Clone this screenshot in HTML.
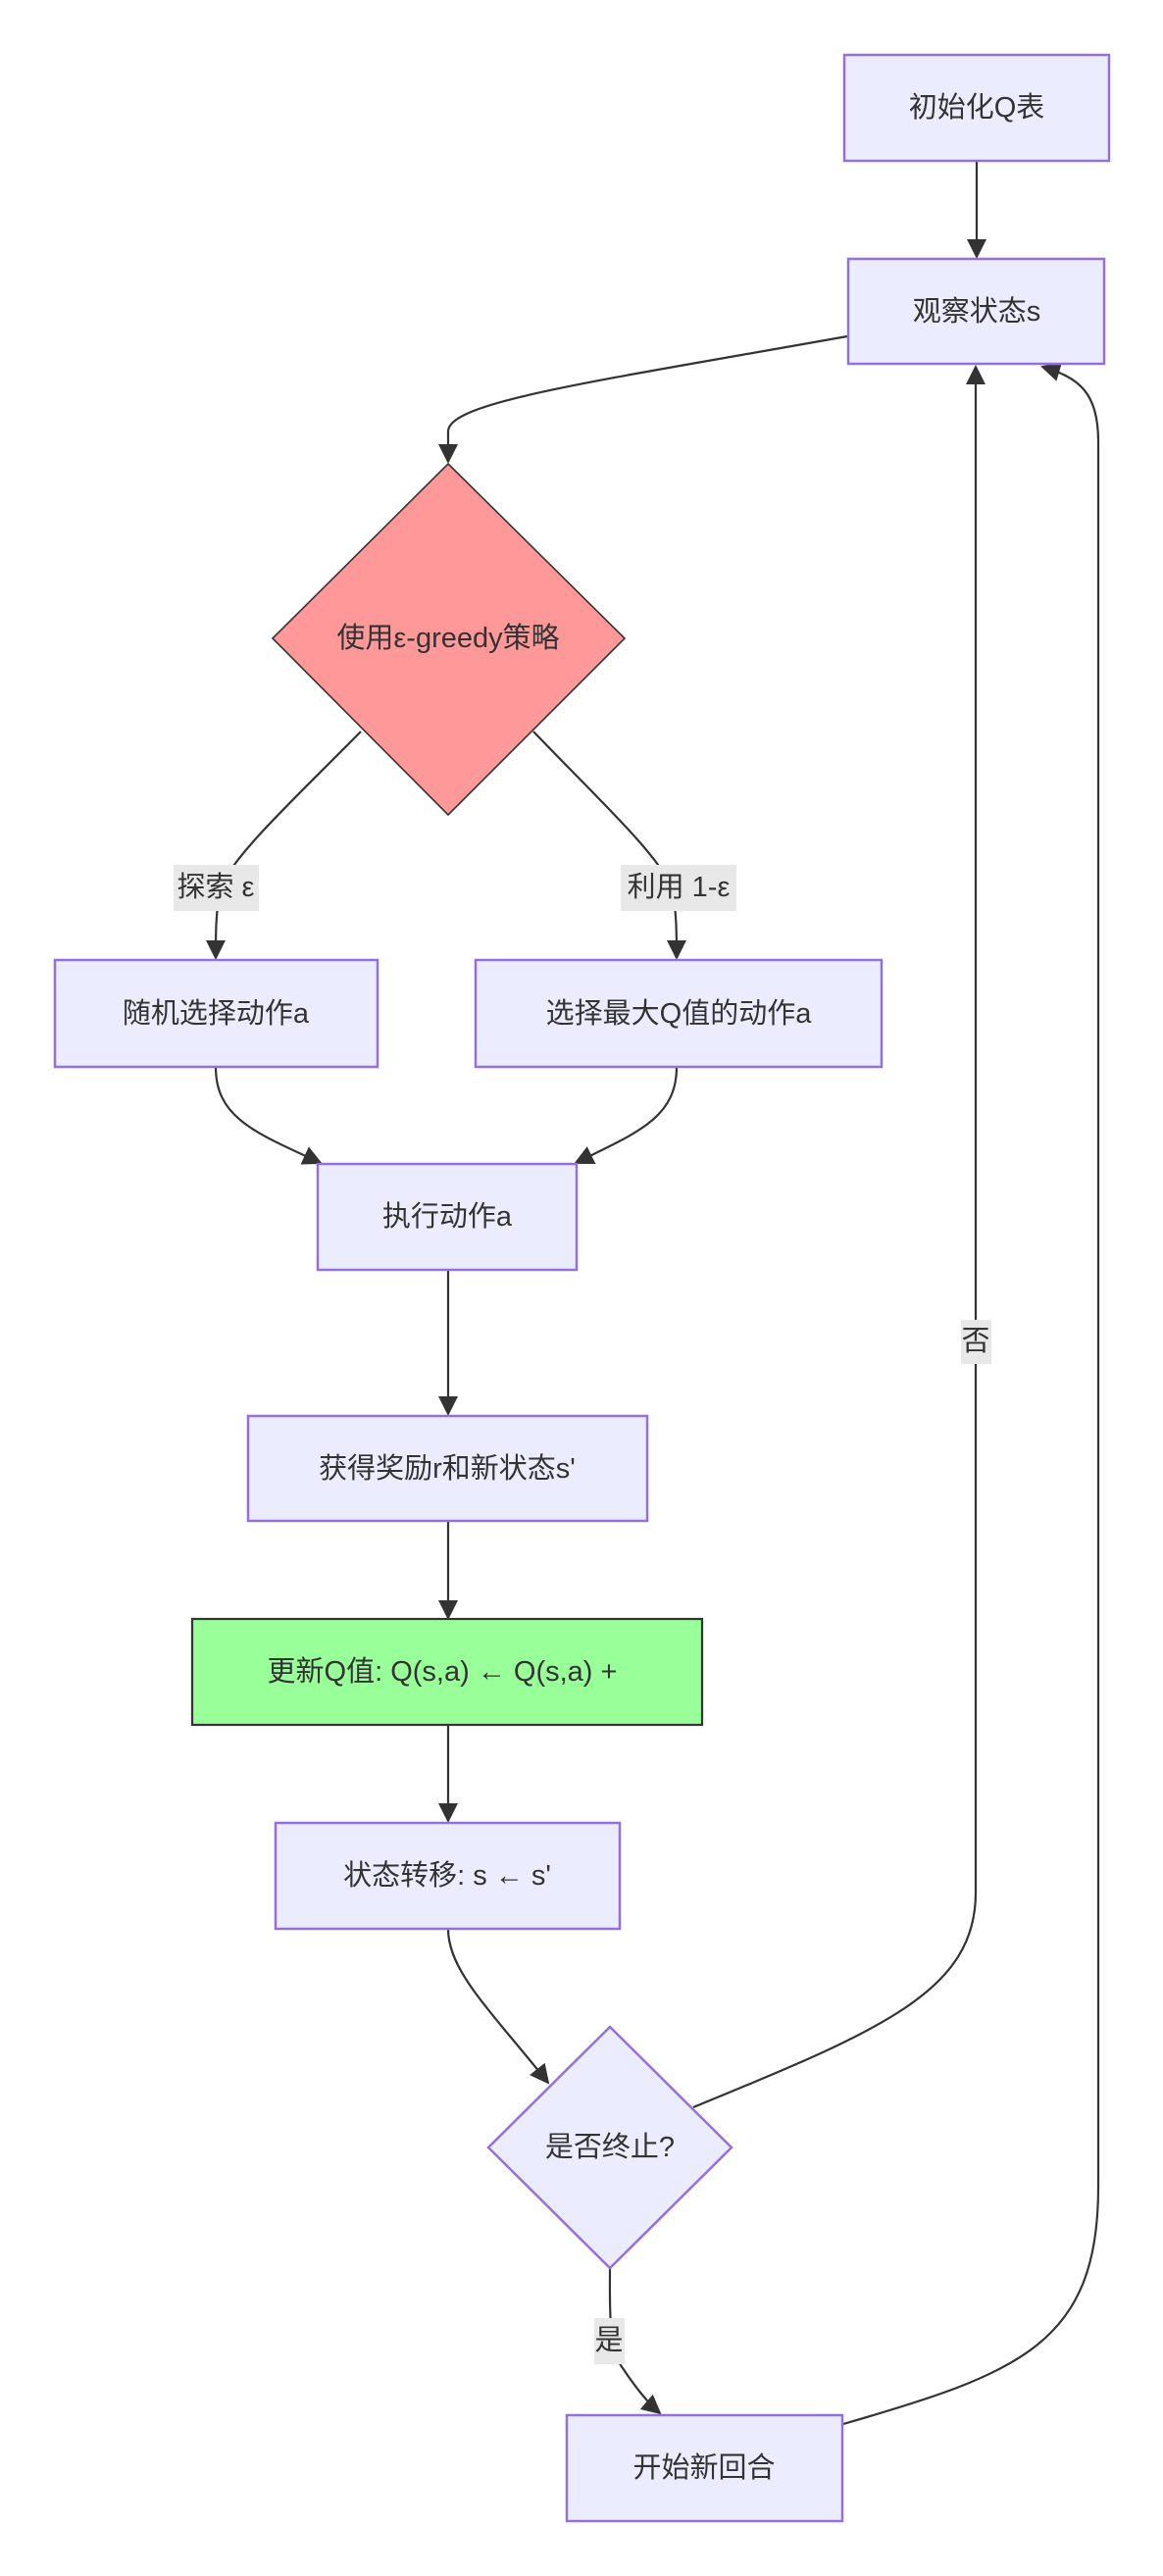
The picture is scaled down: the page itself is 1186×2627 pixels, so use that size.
<!DOCTYPE html>
<html><head><meta charset="utf-8"><style>
html,body{margin:0;padding:0;background:#fff;}
svg{display:block;}
text{font-family:"Liberation Sans","Noto Sans CJK SC",sans-serif;font-size:29px;fill:#333;text-anchor:middle;dominant-baseline:central;}
.n{fill:#ECECFF;stroke:#9370DB;stroke-width:2.5;}
.e{fill:none;stroke:#333;stroke-width:2.2;}
.lb{fill:#e8e8e8;}
</style></head><body>
<svg width="1186" height="2627" viewBox="0 0 1186 2627" xmlns="http://www.w3.org/2000/svg">
<defs><marker id="a" viewBox="0 0 10 10" refX="9" refY="5" markerWidth="9" markerHeight="9" markerUnits="userSpaceOnUse" orient="auto"><path d="M0,0L10,5L0,10z" fill="#333"/></marker>
<marker id="b" viewBox="0 0 10 10" refX="9" refY="5" markerWidth="20" markerHeight="20" markerUnits="userSpaceOnUse" orient="auto"><path d="M0,0L10,5L0,10z" fill="#333"/></marker></defs>

<!-- edges -->
<path class="e" d="M996,164 L996,262" marker-end="url(#b)"/>
<path class="e" d="M864,343 C600,390 457,410 457,440 L457,471" marker-end="url(#b)"/>
<path class="e" d="M368,746 C300,815 240,870 225,905 C220,930 220,950 220,977" marker-end="url(#b)"/>
<path class="e" d="M544,746 C610,815 670,870 685,905 C690,930 690,950 690,977" marker-end="url(#b)"/>
<path class="e" d="M220,1088 C220,1140 260,1155 327,1186" marker-end="url(#b)"/>
<path class="e" d="M690,1088 C690,1140 650,1155 587,1186" marker-end="url(#b)"/>
<path class="e" d="M457,1295 L457,1442" marker-end="url(#b)"/>
<path class="e" d="M457,1551 L457,1650" marker-end="url(#b)"/>
<path class="e" d="M457,1759 L457,1857" marker-end="url(#b)"/>
<path class="e" d="M457,1967 C457,2010 500,2050 559,2124" marker-end="url(#b)"/>
<path class="e" d="M707,2149 C900,2070 995,2030 995,1930 L995,374" marker-end="url(#b)"/>
<path class="e" d="M622,2313 C622,2350 620,2395 635,2415 C645,2430 660,2450 673,2461" marker-end="url(#b)"/>
<path class="e" d="M860,2472 C1040,2420 1120,2390 1120,2230 L1120,450 C1120,400 1100,385 1063,374" marker-end="url(#b)"/>

<!-- nodes -->
<rect class="n" x="861" y="56" width="270" height="108"/>
<text x="996" y="110">初始化Q表</text>
<rect class="n" x="865" y="264" width="261" height="107"/>
<text x="996" y="318">观察状态s</text>
<polygon points="457,473 637,651 457,831 278,651" fill="#FF9999" stroke="#333" stroke-width="1.6"/>
<text x="457" y="651">使用ε-greedy策略</text>
<rect class="n" x="56" y="979" width="329" height="109"/>
<text x="220" y="1034">随机选择动作a</text>
<rect class="n" x="485" y="979" width="414" height="109"/>
<text x="692" y="1034">选择最大Q值的动作a</text>
<rect class="n" x="324" y="1187" width="264" height="108"/>
<text x="456" y="1241">执行动作a</text>
<rect class="n" x="253" y="1444" width="407" height="107"/>
<text x="456" y="1498">获得奖励r和新状态s'</text>
<rect x="196" y="1651" width="520" height="108" fill="#99FF99" stroke="#333" stroke-width="2.2"/>
<text x="451" y="1705">更新Q值: Q(s,a) ← Q(s,a) +</text>
<rect class="n" x="281" y="1859" width="351" height="108"/>
<text x="456" y="1913">状态转移: s ← s'</text>
<polygon class="n" points="622,2067 746,2190 622,2313 498,2190"/>
<text x="622" y="2190">是否终止?</text>
<rect class="n" x="578" y="2463" width="281" height="108"/>
<text x="718" y="2517">开始新回合</text>

<!-- labels -->
<rect class="lb" x="177" y="882" width="87" height="47"/>
<text x="220" y="905">探索 ε</text>
<rect class="lb" x="633" y="882" width="118" height="47"/>
<text x="692" y="905">利用 1-ε</text>
<rect class="lb" x="980" y="1346" width="31" height="45"/>
<text x="995" y="1368">否</text>
<rect class="lb" x="606" y="2364" width="31" height="47"/>
<text x="621" y="2387">是</text>
</svg>
</body></html>
